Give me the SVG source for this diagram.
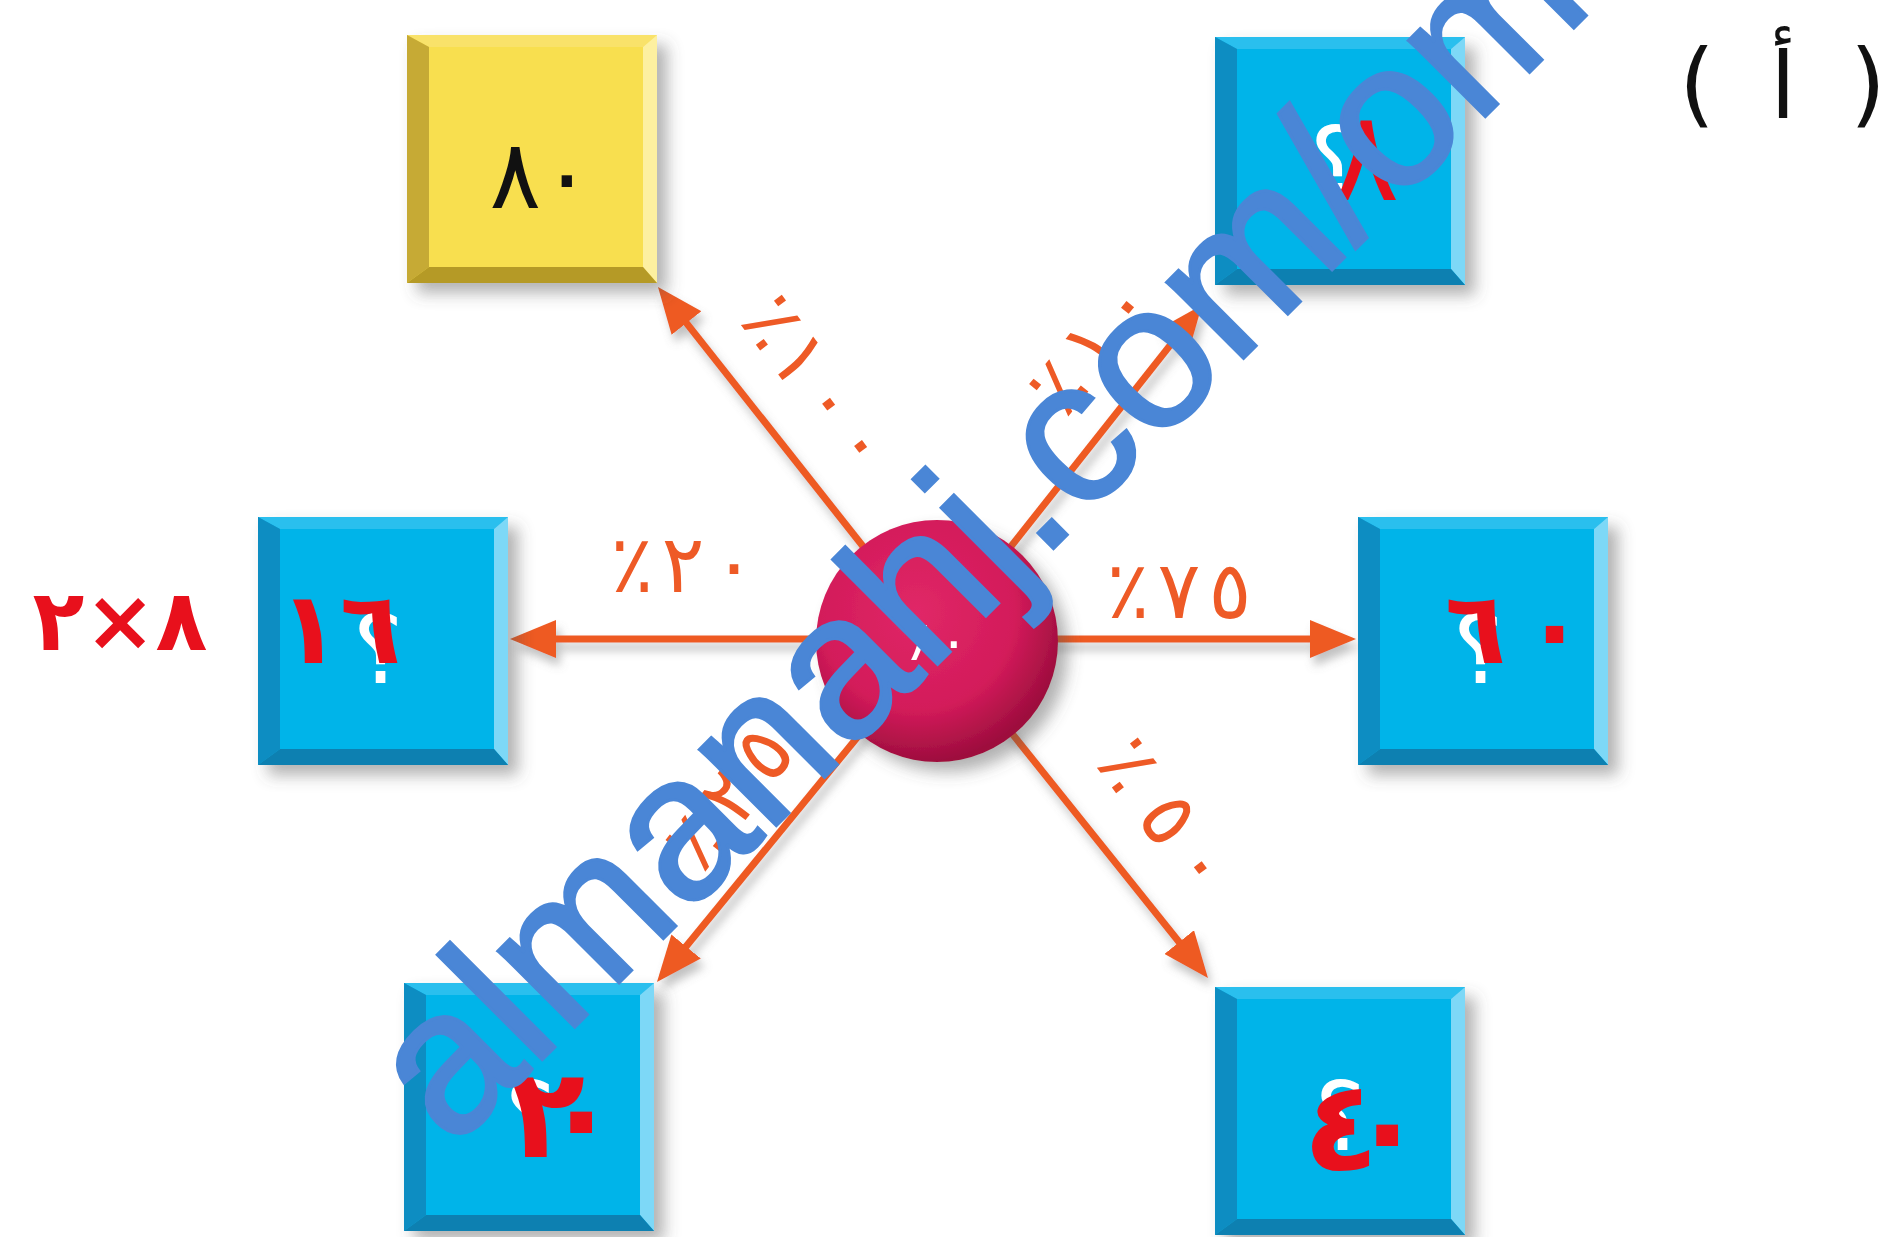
<svg xmlns="http://www.w3.org/2000/svg" xmlns:xlink="http://www.w3.org/1999/xlink" width="1888" height="1237" viewBox="0 0 1888 1237">
<defs>
  <style>
    .lbl { font-family: "DejaVu Sans", sans-serif; font-size: 80px; fill: #ee5a26; text-anchor: middle; }
    .red { font-family: "DejaVu Sans", sans-serif; font-weight: bold; fill: #e8101c; text-anchor: middle; }
    .q { font-family: "DejaVu Sans", sans-serif; font-size: 96px; fill: #ffffff; text-anchor: middle; }
    .conn { stroke: #ee5a22; stroke-width: 7; fill: none; marker-end: url(#arrow); }
    .wm { font-family: "Liberation Sans", "DejaVu Sans", sans-serif; font-size: 205px; fill: #4a86d6; stroke: #4a86d6; stroke-width: 3; }
  </style>
  <filter id="shadow" x="-20%" y="-20%" width="150%" height="150%">
    <feDropShadow dx="10" dy="10" stdDeviation="8" flood-color="#555" flood-opacity="0.45"/>
  </filter>
  <filter id="lshadow" x="-20%" y="-20%" width="140%" height="140%">
    <feDropShadow dx="4" dy="8" stdDeviation="5" flood-color="#777" flood-opacity="0.45"/>
  </filter>
  <marker id="arrow" markerUnits="userSpaceOnUse" viewBox="0 0 46 38" markerWidth="46" markerHeight="38" refX="36" refY="19" orient="auto">
    <path d="M0,0 L46,19 L0,38 z" fill="#ee5a22"/>
  </marker>
  <radialGradient id="ball" cx="42%" cy="38%" r="62%">
    <stop offset="0" stop-color="#e02867"/>
    <stop offset="0.65" stop-color="#d31b5a"/>
    <stop offset="1" stop-color="#9e0e3e"/>
  </radialGradient>
  <symbol id="bluebox" viewBox="0 0 250 248" width="250" height="248">
    <rect x="0" y="0" width="250" height="248" fill="#05b4e9"/>
    <polygon points="0,0 250,0 236,12 22,12" fill="#2cbfee"/>
    <polygon points="0,0 22,12 22,232 0,248" fill="#0a8dc2"/>
    <polygon points="250,0 250,248 236,232 236,12" fill="#7dd8f7"/>
    <polygon points="0,248 22,232 236,232 250,248" fill="#0a80b1"/>
  </symbol>
  <symbol id="yellowbox" viewBox="0 0 250 248" width="250" height="248">
    <rect x="0" y="0" width="250" height="248" fill="#f8df4f"/>
    <polygon points="0,0 250,0 236,12 22,12" fill="#f9e26a"/>
    <polygon points="0,0 22,12 22,232 0,248" fill="#c6aa34"/>
    <polygon points="250,0 250,248 236,232 236,12" fill="#fdf0a0"/>
    <polygon points="0,248 22,232 236,232 250,248" fill="#b59a28"/>
  </symbol>
</defs>
<rect width="1888" height="1237" fill="#ffffff"/>

<g id="connectors" filter="url(#lshadow)">
  <line class="conn" x1="930" y1="639" x2="520" y2="639"/>
  <line class="conn" x1="944" y1="639" x2="1346" y2="639"/>
  <line class="conn" x1="937" y1="640" x2="664.2" y2="294.8"/>
  <line class="conn" x1="937" y1="640" x2="1195.8" y2="312.8"/>
  <line class="conn" x1="937" y1="640" x2="663.3" y2="974.3"/>
  <line class="conn" x1="937" y1="640" x2="1201.7" y2="970.2"/>
</g>

<g id="edge-labels">
  <text class="lbl" x="683" y="592" dx="0 8 8">٪٢٠</text>
  <text class="lbl" x="1179" y="618" dx="0 8 8">٪٧٥</text>
  <text class="lbl" transform="translate(819,382) rotate(53)" y="28" dx="0 4 10 10">٪١٠٠</text>
  <text class="lbl" transform="translate(1090,345) rotate(-51)" y="28" dx="0 10 10">٪١٠</text>
  <text class="lbl" transform="translate(728,797) rotate(-52)" y="28" dx="0 15 12">٪٢٥</text>
  <text class="lbl" transform="translate(1167,814) rotate(53)" y="28" dx="0 25 15">٪٥٠</text>
</g>

<g id="node-yellow">
  <use href="#yellowbox" x="407" y="35" filter="url(#shadow)"/>
  <text x="541" y="208" font-family="DejaVu Sans, sans-serif" font-size="96" fill="#111" text-anchor="middle">٨٠</text>
</g>

<g id="node-top-right">
  <use href="#bluebox" x="1215" y="37" filter="url(#shadow)"/>
  <text class="q" x="1335" y="195">؟</text>
  <text x="1366" y="200" font-family="DejaVu Sans, sans-serif" font-size="125" fill="#e8101c" text-anchor="middle">٨</text>
</g>

<g id="node-left">
  <use href="#bluebox" x="258" y="517" filter="url(#shadow)"/>
  <text class="q" x="378" y="683">؟</text>
  <text class="red" x="340" y="663" font-size="100">١٦</text>
</g>

<g id="annotation-left">
  <text class="red" x="120" y="650" font-size="85">٨×٢</text>
</g>

<g id="node-right">
  <use href="#bluebox" x="1358" y="517" filter="url(#shadow)"/>
  <text class="q" x="1478" y="683">؟</text>
  <text class="red" x="1515" y="663" font-size="100" dx="0 18">٦٠</text>
</g>

<g id="node-bottom-left">
  <use href="#bluebox" x="404" y="983" filter="url(#shadow)"/>
  <text class="q" x="530" y="1150">؟</text>
  <text class="red" x="564" y="1157" font-size="125" dx="0 -42">٢٠</text>
</g>

<g id="node-bottom-right">
  <use href="#bluebox" x="1215" y="987" filter="url(#shadow)"/>
  <text class="q" x="1340" y="1150">؟</text>
  <text class="red" x="1364" y="1170" font-size="125" dx="0 -30">٤٠</text>
</g>

<g id="node-center">
  <circle cx="937" cy="641" r="121" fill="url(#ball)" filter="url(#shadow)"/>
  <text x="939" y="660" font-family="DejaVu Sans, sans-serif" font-size="55" fill="#ffffff" text-anchor="middle">٨٠</text>
</g>

<g id="title">
  <text x="1697" y="116" font-family="DejaVu Sans, sans-serif" font-size="92" fill="#111" text-anchor="middle">(</text>
  <text x="1783" y="118" font-family="DejaVu Sans, sans-serif" font-size="92" fill="#111" text-anchor="middle">أ</text>
  <text x="1868" y="116" font-family="DejaVu Sans, sans-serif" font-size="92" fill="#111" text-anchor="middle">)</text>
</g>

<g id="watermark">
  <text class="wm" transform="translate(452,1150) rotate(-45)">almanahj.com/om</text>
</g>
</svg>
